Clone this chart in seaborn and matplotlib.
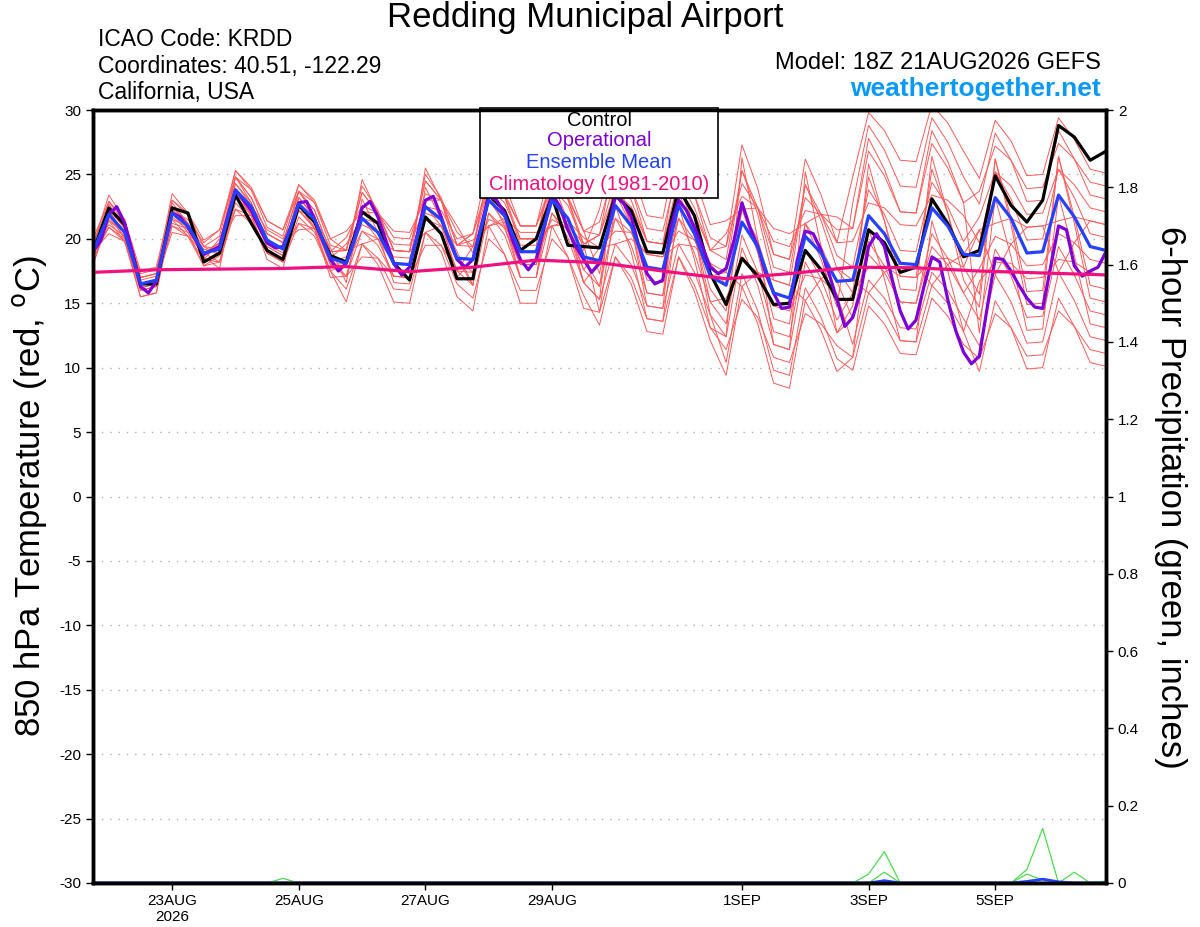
import pandas as pd
import matplotlib
matplotlib.use("Agg")
import matplotlib.pyplot as plt
import seaborn as sns
from matplotlib.patches import Rectangle

# time axes: 6-hourly ensemble, 3-hourly operational, daily climatology
times = pd.date_range("2026-08-21 18:00", periods=65, freq="6h")
times_op = pd.date_range("2026-08-21 18:00", periods=129, freq="3h")
times_clim = pd.date_range("2026-08-21 18:00", periods=17, freq="1D")

control = [19.0, 22.4, 21.1, 16.5, 16.5, 22.4, 22.0, 18.2, 18.9, 23.4, 21.2, 19.1, 18.4,
           22.6, 21.3, 18.7, 18.2, 22.1, 21.2, 18.1, 16.8, 21.7, 20.4, 16.9, 16.9, 23.4,
           22.2, 19.1, 20.0, 23.3, 19.5, 19.4, 19.3, 23.4, 22.2, 19.0, 18.9, 23.9, 21.8,
           17.3, 14.9, 18.5, 17.1, 14.9, 15.0, 19.1, 17.6, 15.3, 15.3, 20.7, 19.7, 17.4,
           17.8, 23.1, 21.2, 18.6, 19.1, 24.9, 22.6, 21.3, 23.0, 28.8, 27.9, 26.1, 26.8]

ens_mean = [19.0, 21.9, 20.5, 16.5, 16.8, 22.0, 21.0, 18.9, 19.2, 23.8, 22.5, 19.9, 19.2,
            22.7, 21.5, 18.5, 18.1, 21.6, 20.5, 18.1, 18.0, 22.5, 21.5, 18.5, 18.4, 23.0,
            21.8, 19.0, 19.0, 23.0, 21.6, 18.6, 18.3, 22.6, 21.0, 17.8, 17.6, 22.6, 20.4,
            17.1, 16.4, 21.3, 19.4, 15.8, 15.4, 20.2, 18.9, 16.7, 16.8, 21.8, 20.4, 18.1,
            18.0, 22.4, 21.0, 18.8, 18.7, 23.2, 21.6, 18.9, 19.0, 23.4, 21.7, 19.4, 19.1]

operational = [19.0, 19.9, 21.9, 22.5, 21.2, 18.9, 16.3, 15.8, 16.7, 19.4, 22.0, 21.7, 20.9,
               19.9, 18.8, 19.1, 19.4, 21.7, 23.8, 23.0, 22.2, 20.9, 19.7, 19.3, 19.4, 20.9,
               22.8, 22.9, 21.5, 19.9, 18.4, 17.5, 18.1, 19.9, 22.4, 22.9, 21.7, 19.9, 18.1,
               17.2, 17.8, 20.4, 23.0, 23.3, 21.7, 19.9, 18.4, 17.8, 18.4, 20.9, 23.3, 23.0,
               22.0, 19.9, 18.4, 17.6, 18.4, 20.9, 23.5, 22.5, 20.7, 19.4, 18.4, 17.4, 18.1,
               20.4, 23.3, 22.8, 21.7, 19.4, 17.3, 16.5, 16.8, 20.9, 23.0, 22.2, 20.9, 19.4,
               17.8, 17.3, 17.7, 19.9, 22.8, 20.9, 19.4, 17.3, 15.8, 14.6, 14.7, 18.4, 20.6,
               20.4, 19.1, 17.3, 15.3, 13.2, 13.9, 15.9, 19.4, 20.4, 19.4, 16.8, 14.4, 13.0,
               13.7, 16.3, 18.6, 18.2, 15.3, 12.9, 11.2, 10.3, 10.9, 14.7, 18.5, 18.4, 17.5,
               16.4, 15.4, 14.7, 14.6, 17.8, 21.0, 20.7, 17.9, 17.1, 17.5, 17.8, 19.0]

climatology = [17.4, 17.6, 17.65, 17.7, 17.85, 17.45, 17.8, 18.35, 18.15, 17.5, 16.9,
               17.3, 17.8, 17.75, 17.5, 17.35, 17.2]

member_01 = [19.5, 22.9, 21.2, 17.0, 17.3, 23.0, 21.8, 19.4, 20.2, 25.3, 23.8, 20.9, 20.2,
             24.2, 22.8, 19.5, 19.1, 23.6, 22.0, 19.1, 19.0, 24.5, 23.0, 19.5, 20.4, 24.5,
             23.5, 21.0, 21.0, 24.5, 23.3, 20.6, 21.3, 25.6, 24.0, 20.8, 20.6, 25.6, 23.4,
             20.1, 19.4, 27.3, 23.9, 18.8, 18.4, 26.2, 23.4, 19.7, 24.8, 29.8, 28.4, 26.1,
             26.0, 30.4, 29.0, 26.8, 24.7, 29.2, 27.6, 24.9, 25.0, 29.4, 27.7, 25.4, 25.1]
member_02 = [18.5, 20.9, 19.8, 16.0, 16.3, 21.0, 20.2, 18.4, 18.2, 22.8, 21.5, 18.9, 18.2,
             21.7, 20.5, 17.5, 16.1, 19.6, 18.5, 16.1, 16.0, 20.5, 19.5, 16.5, 15.4, 20.0,
             18.8, 16.0, 16.0, 20.0, 18.6, 15.6, 13.3, 18.6, 16.5, 12.8, 12.6, 18.6, 15.9,
             12.1, 9.4, 16.3, 13.4, 8.8, 8.4, 15.2, 12.9, 9.7, 10.8, 15.8, 14.4, 12.1,
             12.0, 16.4, 15.0, 12.8, 9.7, 15.2, 13.1, 9.9, 10.0, 15.4, 13.2, 10.4, 10.1]
member_03 = [19.0, 22.4, 20.8, 16.5, 16.8, 22.5, 21.2, 18.9, 19.7, 24.8, 23.2, 20.4, 19.7,
             23.7, 22.2, 19.0, 20.1, 22.6, 22.0, 20.1, 20.0, 23.5, 23.0, 20.5, 19.4, 25.0,
             23.3, 20.0, 20.0, 25.0, 23.1, 19.6, 20.3, 24.6, 23.0, 19.8, 19.6, 24.6, 22.4,
             19.1, 20.4, 23.3, 22.4, 19.8, 19.4, 22.2, 21.9, 20.7, 20.8, 26.8, 24.9, 22.1,
             22.0, 27.4, 25.5, 22.8, 23.7, 27.2, 26.1, 23.9, 24.0, 27.4, 26.2, 24.4, 24.1]
member_04 = [19.5, 21.4, 20.5, 17.0, 17.3, 21.5, 21.0, 19.4, 19.2, 22.3, 21.8, 19.9, 19.2,
             21.2, 20.8, 18.5, 17.1, 20.6, 19.5, 17.1, 17.0, 21.5, 20.5, 17.5, 16.4, 22.0,
             20.3, 17.0, 17.0, 22.0, 20.1, 16.6, 15.3, 19.6, 18.0, 14.8, 14.6, 19.6, 17.4,
             14.1, 10.4, 17.3, 14.4, 9.8, 9.4, 16.2, 13.9, 10.7, 9.8, 14.8, 13.4, 11.1,
             11.0, 15.4, 14.0, 11.8, 10.7, 14.2, 13.1, 10.9, 11.0, 14.4, 13.2, 11.4, 11.1]
member_05 = [20.0, 22.9, 21.5, 17.5, 17.8, 23.0, 22.0, 19.9, 20.7, 24.8, 23.8, 21.4, 20.7,
             23.7, 22.8, 20.0, 19.1, 24.1, 22.2, 19.1, 19.0, 25.0, 23.2, 19.5, 19.4, 24.0,
             22.8, 20.0, 20.0, 24.0, 22.6, 19.6, 20.3, 23.6, 22.5, 19.8, 19.6, 23.6, 21.9,
             19.1, 18.4, 25.3, 22.4, 17.8, 17.4, 24.2, 21.9, 18.7, 17.8, 23.8, 21.9, 19.1,
             19.0, 24.4, 22.5, 19.8, 21.7, 25.2, 24.1, 21.9, 22.0, 25.4, 24.2, 22.4, 22.1]
member_06 = [18.0, 21.9, 20.0, 15.5, 15.8, 22.0, 20.5, 17.9, 18.2, 23.3, 21.8, 18.9, 18.2,
             22.2, 20.8, 17.5, 15.1, 19.6, 18.0, 15.1, 15.0, 20.5, 19.0, 15.5, 14.4, 21.0,
             18.8, 15.0, 15.0, 21.0, 18.6, 14.6, 14.3, 18.6, 17.0, 13.8, 13.6, 18.6, 16.4,
             13.1, 12.4, 19.3, 16.4, 11.8, 11.4, 18.2, 15.9, 12.7, 13.8, 18.8, 17.4, 15.1,
             15.0, 19.4, 18.0, 15.8, 13.7, 19.2, 17.1, 13.9, 14.0, 19.4, 17.2, 14.4, 14.1]
member_07 = [19.0, 22.4, 20.8, 16.5, 16.8, 22.5, 21.2, 18.9, 19.2, 24.3, 22.8, 19.9, 19.2,
             23.2, 21.8, 18.5, 19.6, 21.6, 21.2, 19.6, 19.5, 22.5, 22.2, 20.0, 20.4, 26.0,
             24.3, 21.0, 21.0, 26.0, 24.1, 20.6, 20.3, 26.6, 24.0, 19.8, 19.6, 26.6, 23.4,
             19.1, 19.4, 24.3, 22.4, 18.8, 18.4, 23.2, 21.9, 19.7, 19.8, 22.8, 22.4, 21.1,
             21.0, 23.4, 23.0, 21.8, 19.7, 25.2, 23.1, 19.9, 20.0, 25.4, 23.2, 20.4, 20.1]
member_08 = [19.0, 20.9, 20.0, 16.5, 16.8, 21.0, 20.5, 18.9, 18.2, 22.3, 21.2, 18.9, 18.2,
             21.2, 20.2, 17.5, 18.1, 20.6, 20.0, 18.1, 18.0, 21.5, 21.0, 18.5, 17.4, 22.0,
             20.8, 18.0, 18.0, 22.0, 20.6, 17.6, 16.3, 21.6, 19.5, 15.8, 15.6, 21.6, 18.9,
             15.1, 15.4, 18.3, 17.4, 14.8, 14.4, 17.2, 16.9, 15.7, 11.8, 16.8, 15.4, 13.1,
             13.0, 17.4, 16.0, 13.8, 11.7, 17.2, 15.1, 11.9, 12.0, 17.4, 15.2, 12.4, 12.1]
member_09 = [18.5, 22.2, 20.4, 16.0, 16.3, 22.3, 20.9, 18.4, 19.7, 24.8, 23.2, 20.4, 19.7,
             23.7, 22.2, 19.0, 19.1, 23.6, 22.0, 19.1, 19.0, 24.5, 23.0, 19.5, 20.4, 24.0,
             23.3, 21.0, 21.0, 24.0, 23.1, 20.6, 17.3, 23.6, 21.0, 16.8, 16.6, 23.6, 20.4,
             16.1, 14.4, 22.3, 18.9, 13.8, 13.4, 21.2, 18.4, 14.7, 22.8, 28.8, 26.9, 24.1,
             24.0, 29.4, 27.5, 24.8, 22.7, 28.2, 26.1, 22.9, 23.0, 28.4, 26.2, 23.4, 23.1]
member_10 = [18.0, 21.4, 19.8, 15.5, 15.8, 21.5, 20.2, 17.9, 18.7, 23.3, 22.0, 19.4, 18.7,
             22.2, 21.0, 18.0, 17.1, 21.6, 20.0, 17.1, 17.0, 22.5, 21.0, 17.5, 17.4, 23.0,
             21.3, 18.0, 18.0, 23.0, 21.1, 17.6, 19.3, 20.6, 20.5, 18.8, 18.6, 20.6, 19.9,
             18.1, 16.4, 22.3, 19.9, 15.8, 15.4, 21.2, 19.4, 16.7, 13.8, 19.8, 17.9, 15.1,
             15.0, 20.4, 18.5, 15.8, 17.7, 20.2, 19.6, 17.9, 18.0, 20.4, 19.7, 18.4, 18.1]
member_11 = [19.5, 23.4, 21.5, 17.0, 17.3, 23.5, 22.0, 19.4, 18.7, 24.8, 22.8, 19.4, 18.7,
             23.7, 21.8, 18.0, 18.1, 24.6, 22.0, 18.1, 18.0, 25.5, 23.0, 18.5, 16.4, 24.5,
             21.6, 17.0, 17.0, 24.5, 21.4, 16.6, 15.3, 25.6, 21.0, 14.8, 14.6, 25.6, 20.4,
             14.1, 12.4, 26.3, 19.9, 11.8, 11.4, 25.2, 19.4, 12.7, 14.8, 25.8, 21.4, 16.1,
             16.0, 26.4, 22.0, 16.8, 14.7, 26.2, 21.1, 14.9, 15.0, 26.4, 21.2, 15.4, 15.1]
member_12 = [19.0, 20.4, 19.8, 16.5, 16.8, 20.5, 20.2, 18.9, 19.7, 21.8, 21.8, 20.4, 19.7,
             20.7, 20.8, 19.0, 19.1, 19.6, 20.0, 19.1, 19.0, 20.5, 21.0, 19.5, 19.9, 21.0,
             21.6, 20.5, 20.5, 21.0, 21.4, 20.1, 19.3, 19.6, 20.0, 18.8, 18.6, 19.6, 19.4,
             18.1, 17.4, 16.3, 17.4, 16.8, 16.4, 15.2, 16.9, 17.7, 16.8, 15.8, 17.4, 18.1,
             18.0, 16.4, 18.0, 18.8, 20.7, 17.2, 19.6, 20.9, 21.0, 17.4, 19.7, 21.4, 21.1]
member_13 = [18.7, 22.7, 20.8, 16.2, 16.5, 22.8, 21.2, 18.6, 20.0, 23.3, 22.6, 20.7, 20.0,
             22.2, 21.6, 19.3, 16.6, 23.1, 20.5, 16.6, 16.5, 24.0, 21.5, 17.0, 18.4, 21.5,
             21.0, 19.0, 19.0, 21.5, 20.8, 18.6, 16.3, 24.6, 21.0, 15.8, 15.6, 24.6, 20.4,
             15.1, 13.4, 20.3, 17.4, 12.8, 12.4, 19.2, 16.9, 13.7, 15.8, 24.8, 21.4, 17.1,
             17.0, 25.4, 22.0, 17.8, 20.7, 21.2, 21.6, 20.9, 21.0, 21.4, 21.7, 21.4, 21.1]
member_14 = [19.3, 21.1, 20.2, 16.8, 17.1, 21.2, 20.8, 19.2, 18.9, 24.3, 22.6, 19.6, 18.9,
             23.2, 21.6, 18.2, 18.6, 21.1, 20.5, 18.6, 18.5, 22.0, 21.5, 19.0, 16.4, 23.5,
             21.0, 17.0, 17.0, 23.5, 20.8, 16.6, 18.3, 21.6, 20.5, 17.8, 17.6, 21.6, 19.9,
             17.1, 17.4, 25.3, 21.9, 16.8, 16.4, 24.2, 21.4, 17.7, 15.8, 17.8, 17.9, 17.1,
             17.0, 18.4, 18.5, 17.8, 15.7, 26.2, 21.6, 15.9, 16.0, 26.4, 21.7, 16.4, 16.1]
member_15 = [19.8, 22.1, 21.0, 17.3, 17.6, 22.2, 21.5, 19.7, 20.7, 25.3, 24.0, 21.4, 20.7,
             24.2, 23.0, 20.0, 20.6, 22.1, 22.0, 20.6, 20.5, 23.0, 23.0, 21.0, 18.9, 25.5,
             23.3, 19.5, 19.5, 25.5, 23.1, 19.1, 22.3, 27.6, 25.5, 21.8, 21.6, 27.6, 24.9,
             21.1, 21.4, 22.3, 22.4, 20.8, 20.4, 21.2, 21.9, 21.7, 20.8, 27.8, 25.4, 22.1,
             22.0, 28.4, 26.0, 22.8, 12.7, 23.2, 18.6, 12.9, 13.0, 23.4, 18.7, 13.4, 13.1]
member_16 = [18.7, 21.6, 20.2, 16.2, 16.5, 21.7, 20.7, 18.6, 17.7, 23.8, 21.8, 18.4, 17.7,
             22.7, 20.8, 17.0, 17.1, 18.6, 18.5, 17.1, 17.0, 19.5, 19.5, 17.5, 19.4, 21.0,
             21.3, 20.0, 20.0, 21.0, 21.1, 19.6, 14.3, 22.6, 19.0, 13.8, 13.6, 22.6, 18.4,
             13.1, 11.4, 15.3, 13.9, 10.8, 10.4, 14.2, 13.4, 11.7, 10.8, 20.8, 16.9, 12.1,
             12.0, 21.4, 17.5, 12.8, 16.7, 18.2, 18.1, 16.9, 17.0, 18.4, 18.2, 17.4, 17.1]

members = [member_01, member_02, member_03, member_04, member_05, member_06,
           member_07, member_08, member_09, member_10, member_11, member_12,
           member_13, member_14, member_15, member_16]

# 6-hour precipitation (inches), mostly dry
precip_a = [0.0] * 49 + [0.023, 0.081] + [0.0] * 8 + [0.035, 0.141] + [0.0] * 4
precip_b = [0.0] * 50 + [0.028] + [0.0] * 8 + [0.023, 0.008, 0.0, 0.028, 0.0, 0.0]
precip_c = [0.0] * 12 + [0.012] + [0.0] * 51 + [0.005]
precip_mean = [0.0] * 50 + [0.006] + [0.0] * 8 + [0.004, 0.010, 0.003] + [0.0] * 3
precip_control = [0.0] * 65

x_ticks = pd.to_datetime(["2026-08-23", "2026-08-25", "2026-08-27", "2026-08-29",
                          "2026-09-01", "2026-09-03", "2026-09-05"])
x_labels = ["23AUG\n2026", "25AUG", "27AUG", "29AUG", "1SEP", "3SEP", "5SEP"]

sns.set_style("white")
plt.rcParams["font.family"] = ["Liberation Sans", "DejaVu Sans"]
plt.rcParams["text.color"] = "black"
plt.rcParams["xtick.color"] = "black"
plt.rcParams["ytick.color"] = "black"
plt.rcParams["axes.labelcolor"] = "black"
plt.rcParams["axes.unicode_minus"] = False

fig = plt.figure(figsize=(12, 9.27), dpi=100)
W, H = 1200, 927
ax = fig.add_axes([93 / W, 1 - 883 / H, (1106 - 93) / W, (883 - 110) / H])

# dotted grid
for v in range(-25, 30, 5):
    ax.axhline(v, color="#b0b0b0", lw=1.0, ls=(0, (1, 5)), zorder=0.5)

df_mem = pd.concat([pd.DataFrame({"time": times, "temp": m, "member": k})
                    for k, m in enumerate(members)])
sns.lineplot(data=df_mem, x="time", y="temp", units="member", estimator=None,
             color="#ff5a5a", lw=0.7, ax=ax, legend=False, zorder=1)
sns.lineplot(x=times, y=control, color="black", lw=2.3, ax=ax, zorder=2)
sns.lineplot(x=times_op, y=operational, color="#7e00d8", lw=2.3, ax=ax, zorder=3)
sns.lineplot(x=times, y=ens_mean, color="#2541ff", lw=2.3, ax=ax, zorder=4)
sns.lineplot(x=times_clim, y=climatology, color="#f0107f", lw=2.3, ax=ax, zorder=5)

ax.set_xlim(times[0], times[-1])
ax.set_ylim(-30, 30)
ax.set_yticks(range(-30, 31, 5))
ax.set_xticks(x_ticks)
ax.set_xticklabels(x_labels, fontsize=11)
ax.tick_params(axis="y", labelsize=11, length=5, width=1, direction="out", left=True)
ax.tick_params(axis="x", length=5, width=1, direction="out", bottom=True, pad=3)
ax.set_xlabel("")
ax.set_ylabel("")

# precipitation on the right axis
ax2 = ax.twinx()
for p in [precip_a, precip_b, precip_c]:
    sns.lineplot(x=times, y=p, color="#4ddc4d", lw=0.9, ax=ax2)
sns.lineplot(x=times, y=precip_mean, color="#2541ff", lw=2.0, ax=ax2)
sns.lineplot(x=times, y=precip_control, color="#101040", lw=2.5, ax=ax2)
ax2.set_ylim(0, 2)
ax2.set_yticks([0, 0.2, 0.4, 0.6, 0.8, 1, 1.2, 1.4, 1.6, 1.8, 2])
ax2.set_yticklabels(["0", "0.2", "0.4", "0.6", "0.8", "1", "1.2", "1.4", "1.6", "1.8", "2"])
ax2.tick_params(axis="y", labelsize=11, length=5, width=1, direction="out", right=True)
ax2.set_xlim(times[0], times[-1])
ax2.set_ylabel("")

for a in (ax, ax2):
    for s in a.spines.values():
        s.set_linewidth(2.5)
        s.set_color("black")

# legend box
ax.add_patch(Rectangle(((480 - 93) / 1013, (883 - 198) / 773), (718 - 480) / 1013,
                       90 / 773, transform=ax.transAxes, facecolor="white",
                       edgecolor="black", lw=1.2, zorder=10, clip_on=False))
leg_items = [("Control", "black", 121), ("Operational", "#7e00d8", 141),
             ("Ensemble Mean", "#2541ff", 163), ("Climatology (1981-2010)", "#f0107f", 184)]
for txt, col, yp in leg_items:
    fig.text(599 / W, 1 - yp / H, txt, color=col, fontsize=14.5, ha="center",
             va="center", zorder=11)

# header texts
fig.text(585 / W, 1 - 18 / H, "Redding Municipal Airport", fontsize=25, ha="center", va="center")
fig.text(98 / W, 1 - 40 / H, "ICAO Code: KRDD", fontsize=16.5, ha="left", va="center")
fig.text(98 / W, 1 - 66 / H, "Coordinates: 40.51, -122.29", fontsize=16.5, ha="left", va="center")
fig.text(98 / W, 1 - 92 / H, "California, USA", fontsize=16.5, ha="left", va="center")
fig.text(1101 / W, 1 - 63 / H, "Model: 18Z 21AUG2026 GEFS", fontsize=17, ha="right", va="center")
fig.text(1101 / W, 1 - 89 / H, "weathertogether.net", fontsize=19, fontweight="bold",
         color="#0a9af5", ha="right", va="center")

fig.text(30 / W, 1 - 496 / H, r"850 hPa Temperature (red, $^{\rm o}$C)", fontsize=25,
         rotation=90, ha="center", va="center")
fig.text(1170 / W, 1 - 497 / H, "6-hour Precipitation (green, inches)", fontsize=25,
         rotation=270, ha="center", va="center")

fig.savefig("out.png", dpi=100)
